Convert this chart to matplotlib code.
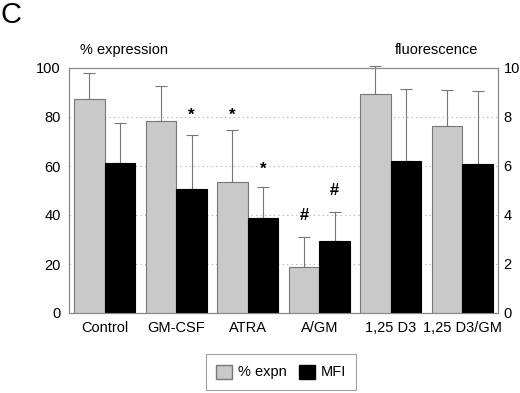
import numpy as np
import matplotlib
matplotlib.use("Agg")
import matplotlib.pyplot as plt
from matplotlib.patches import Patch

groups = ["Control", "GM-CSF", "ATRA", "A/GM", "1,25 D3", "1,25 D3/GM"]
expn = [87.3, 78.4, 53.5, 18.9, 89.4, 76.3]
expn_err = [10.7, 14.2, 21.2, 12.1, 11.4, 14.7]
mfi = [6.12, 5.06, 3.88, 2.94, 6.20, 6.08]
mfi_err = [1.64, 2.20, 1.26, 1.18, 2.94, 2.98]

# significance marks: (group index, series, level in % units, symbol)
marks = [(1, 1, 80.8, "*"), (2, 0, 80.8, "*"), (2, 1, 58.7, "*"),
         (3, 0, 40.0, "#"), (3, 1, 50.0, "#")]

plt.rcParams["font.family"] = ["Liberation Sans", "DejaVu Sans"]

fig = plt.figure(figsize=(5.2, 3.93), dpi=100)
ax = fig.add_axes([69 / 520, 1 - 313 / 393, 429 / 520, 245 / 393])
ax2 = ax.twinx()

x = np.arange(len(groups))
w = 0.43
gray = "#c9c9c9"
edge = "#777777"


def up_errors(xs, ys, errs):
    cont = ax.errorbar(xs, ys, yerr=[np.zeros(len(ys)), errs], fmt="none",
                       ecolor=edge, elinewidth=0.8, capsize=4.5, capthick=0.8, zorder=2)
    for art in cont.lines[1] + cont.lines[2]:
        art.set_clip_on(False)


ax.bar(x - w / 2, expn, w, color=gray, edgecolor=edge, linewidth=0.8, zorder=3)
up_errors(x - w / 2, expn, expn_err)

mfi_pct = np.array(mfi) * 10
mfi_err_pct = np.array(mfi_err) * 10
ax.bar(x + w / 2, mfi_pct, w, color="black", edgecolor="black", linewidth=0.8, zorder=3)
up_errors(x + w / 2, mfi_pct, mfi_err_pct)

for gi, s, lvl, sym in marks:
    xp = gi - w / 2 if s == 0 else gi + w / 2
    ax.text(xp, lvl, sym, ha="center", va="center", fontsize=12,
            fontweight="bold", zorder=4)

ax.set_xlim(-0.5, len(groups) - 0.5)
ax.set_ylim(0, 100)
ax.set_yticks([0, 20, 40, 60, 80, 100])
ax.set_xticks(x)
ax.set_xticklabels(groups, fontsize=10.5)
ax.tick_params(axis="both", length=0, labelsize=10.5)
ax.tick_params(axis="y", pad=6)
ax.tick_params(axis="x", pad=6)
for yv in [20, 40, 60, 80]:
    ax.axhline(yv, color="#aaaaaa", linestyle=(0, (1, 3)), linewidth=0.8, zorder=1)

ax2.set_ylim(0, 10)
ax2.set_yticks([0, 2, 4, 6, 8, 10])
ax2.tick_params(axis="y", length=0, labelsize=10.5, pad=4)

for a in (ax, ax2):
    for sp in a.spines.values():
        sp.set_color("#888888")
        sp.set_linewidth(0.8)

fig.text(80 / 520, 1 - 50 / 393, "% expression", fontsize=10.5, ha="left", va="center")
fig.text(478 / 520, 1 - 50 / 393, "fluorescence", fontsize=10.5, ha="right", va="center")
fig.text(1 / 520, 1 - 15 / 393, "C", fontsize=21, ha="left", va="center")

handles = [Patch(facecolor=gray, edgecolor=edge, label="% expn"),
           Patch(facecolor="black", edgecolor="black", label="MFI")]
leg = fig.legend(handles=handles, loc="center", bbox_to_anchor=(281 / 520, 1 - 372 / 393),
                 ncol=2, frameon=True, fancybox=False, fontsize=10.5,
                 handlelength=1.1, handleheight=1.1, handletextpad=0.4,
                 columnspacing=0.8, borderpad=0.7)
leg.get_frame().set_edgecolor("#888888")
leg.get_frame().set_linewidth(0.8)

fig.savefig("out.png", dpi=100)
